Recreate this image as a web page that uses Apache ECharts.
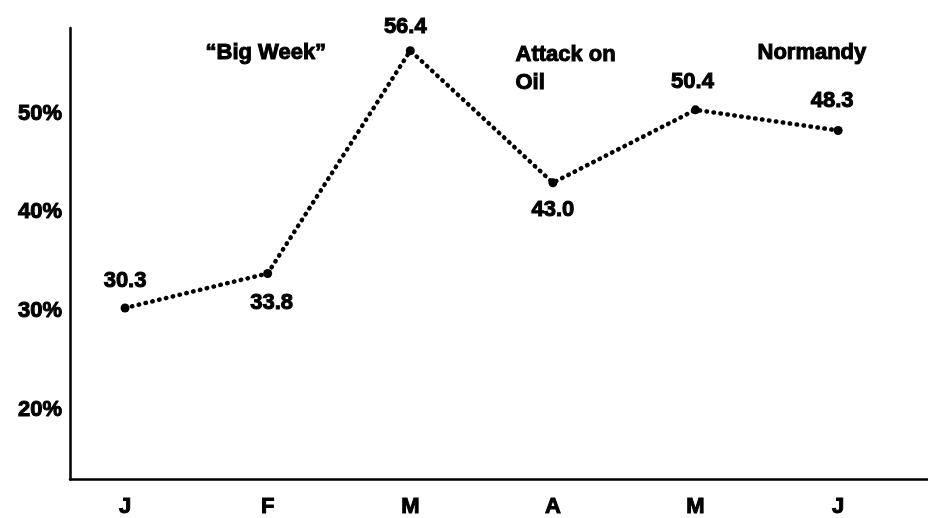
<!DOCTYPE html>
<html>
<head>
<meta charset="utf-8">
<script src="https://cdn.jsdelivr.net/npm/echarts@6/dist/echarts.min.js"></script>
<style>
html,body{margin:0;padding:0;background:#fff;}
#chart{width:928px;height:518px;}
</style>
</head>
<body>
<div id="chart"></div>
<script>
const months = ['J', 'F', 'M', 'A', 'M', 'J'];
const values = [30.3, 33.8, 56.4, 43.0, 50.4, 48.3];
const yTicks = [20, 30, 40, 50];
const annotations = ['\u201CBig Week\u201D', 'Attack on\nOil', 'Normandy'];

const FONT = '"Liberation Sans", Arial, sans-serif';
const TXT = {color: '#000', fontFamily: FONT, fontWeight: 'bold', fontSize: 22,
  textBorderColor: '#000', textBorderWidth: 1};
const labelPos = [
  {position: 'top', distance: 12},
  {position: 'bottom', distance: 14, offset: [4, 0]},
  {position: 'top', distance: 8, offset: [-5, 0]},
  {position: 'bottom', distance: 12},
  {position: 'top', distance: 12, offset: [-3, 0]},
  {position: 'top', distance: 14, offset: [-6, 0]}
];

const seriesData = values.map((v, i) => ({
  value: [i, v],
  label: Object.assign({show: true}, labelPos[i])
}));

const chart = echarts.init(document.getElementById('chart'), null, {renderer: 'canvas'});
chart.setOption({
  animation: false,
  backgroundColor: '#ffffff',
  grid: {left: 70, right: 0, top: 28, bottom: 38, containLabel: false},
  xAxis: {
    type: 'value',
    min: -0.386,
    max: 5.63,
    splitLine: {show: false},
    axisLine: {show: true, onZero: false, lineStyle: {color: '#000', width: 2.5}},
    axisTick: {show: false},
    axisLabel: Object.assign({
      customValues: [0, 1, 2, 3, 4, 5],
      formatter: v => months[Math.round(v)],
      margin: 16
    }, TXT)
  },
  yAxis: {
    type: 'value',
    min: 12.9,
    max: 58.7,
    splitLine: {show: false},
    axisLine: {show: true, onZero: false, lineStyle: {color: '#000', width: 2.5}},
    axisTick: {show: false},
    axisLabel: Object.assign({
      customValues: yTicks,
      formatter: v => v + '%',
      margin: 8
    }, TXT)
  },
  series: [{
    type: 'line',
    data: seriesData,
    symbol: 'circle',
    symbolSize: 9,
    itemStyle: {color: '#000'},
    lineStyle: {color: '#000', width: 4.5, type: [0.5, 6.5], cap: 'round'},
    label: Object.assign({formatter: p => p.value[1].toFixed(1)}, TXT)
  }],
  graphic: [
    {type: 'text', left: 205, top: 41, style: {text: annotations[0], fill: '#000', stroke: '#000', lineWidth: 1, font: 'bold 22px ' + FONT}},
    {type: 'text', left: 515, top: 41, style: {text: annotations[1], fill: '#000', stroke: '#000', lineWidth: 1, font: 'bold 22px ' + FONT, lineHeight: 28}},
    {type: 'text', left: 757, top: 41, style: {text: annotations[2], fill: '#000', stroke: '#000', lineWidth: 1, font: 'bold 22px ' + FONT}}
  ]
});
</script>
</body>
</html>
